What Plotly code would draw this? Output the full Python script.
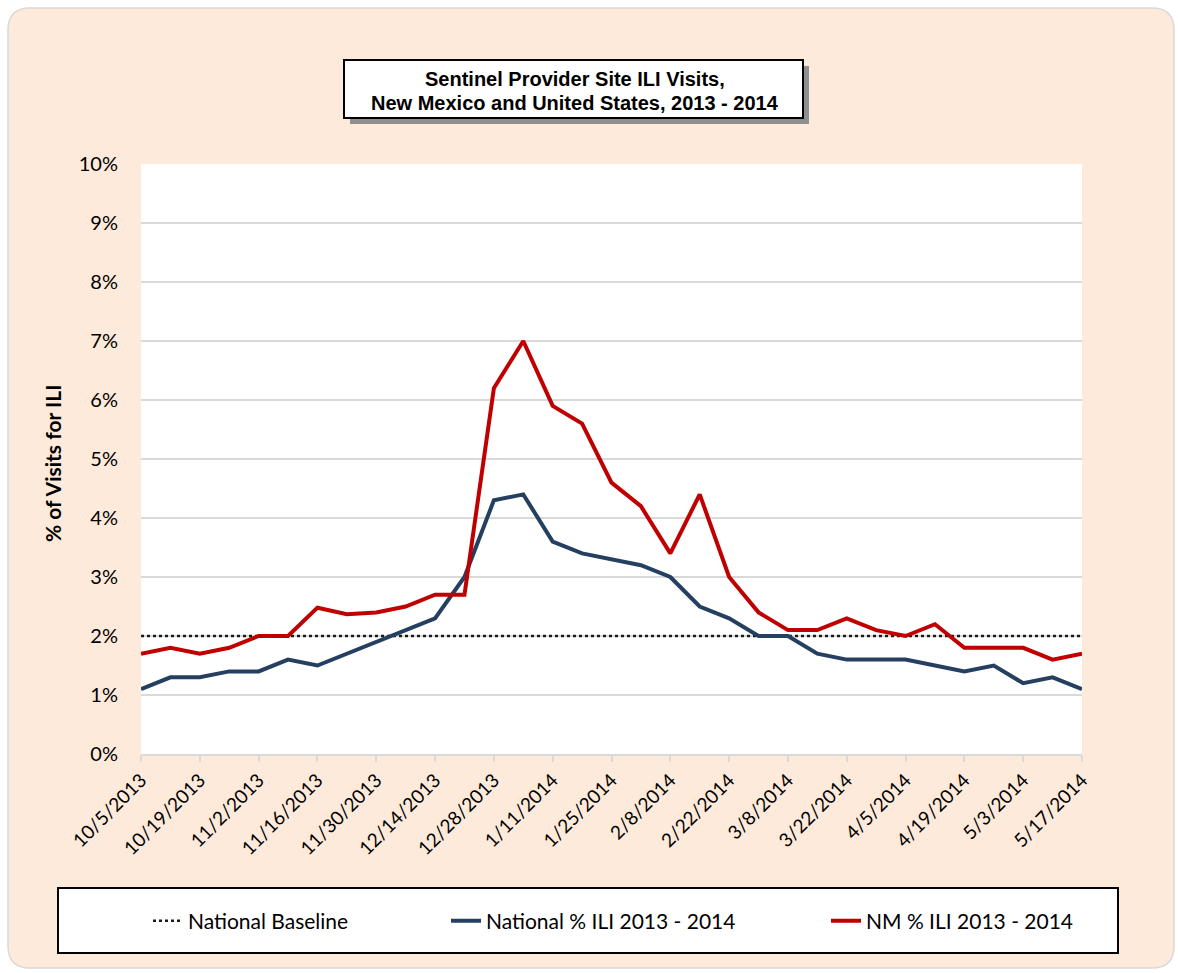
import plotly.graph_objects as go

weeks = ["10/5/2013", "10/12/2013", "10/19/2013", "10/26/2013", "11/2/2013", "11/9/2013",
         "11/16/2013", "11/23/2013", "11/30/2013", "12/7/2013", "12/14/2013", "12/21/2013",
         "12/28/2013", "1/4/2014", "1/11/2014", "1/18/2014", "1/25/2014", "2/1/2014",
         "2/8/2014", "2/15/2014", "2/22/2014", "3/1/2014", "3/8/2014", "3/15/2014",
         "3/22/2014", "3/29/2014", "4/5/2014", "4/12/2014", "4/19/2014", "4/26/2014",
         "5/3/2014", "5/10/2014", "5/17/2014"]

national_ili = [1.1, 1.3, 1.3, 1.4, 1.4, 1.6, 1.5, 1.7, 1.9, 2.1, 2.3, 3.0,
                4.3, 4.4, 3.6, 3.4, 3.3, 3.2, 3.0, 2.5, 2.3, 2.0, 2.0, 1.7,
                1.6, 1.6, 1.6, 1.5, 1.4, 1.5, 1.2, 1.3, 1.1]

nm_ili = [1.7, 1.8, 1.7, 1.8, 2.0, 2.0, 2.48, 2.37, 2.4, 2.5, 2.7, 2.7,
          6.2, 7.0, 5.9, 5.6, 4.6, 4.2, 3.4, 4.4, 3.0, 2.4, 2.1, 2.1,
          2.3, 2.1, 2.0, 2.2, 1.8, 1.8, 1.8, 1.6, 1.7]

national_baseline = [2.0] * len(weeks)

tick_labels = weeks[::2]
y_ticks = list(range(0, 11))
y_tick_text = [f"{v}%" for v in y_ticks]

title_lines = ["Sentinel Provider Site ILI Visits,",
               "New Mexico and United States, 2013 - 2014"]

# ---- layout geometry (pixels) ----
W, H = 1178, 973
L, R, T, B = 141, 1082, 164, 754


def px(x):
    return (x - L) / (R - L)


def py(y):
    return (B - y) / (B - T)


fig = go.Figure()

fig.add_trace(go.Scatter(x=weeks, y=national_baseline, mode="lines",
                         name="National Baseline", legend="legend",
                         line=dict(color="#1a1a1a", width=2.5, dash="dot")))
fig.add_trace(go.Scatter(x=weeks, y=national_ili, mode="lines",
                         name="National % ILI 2013 - 2014", legend="legend2",
                         line=dict(color="#243F60", width=4)))
fig.add_trace(go.Scatter(x=weeks, y=nm_ili, mode="lines",
                         name="NM % ILI 2013 - 2014", legend="legend3",
                         line=dict(color="#C00000", width=4)))

# rounded background
x0, y0, x1, y1, r = 8, 8, 1174, 968, 22
path = (f"M {px(x0 + r)},{py(y0)} L {px(x1 - r)},{py(y0)} "
        f"Q {px(x1)},{py(y0)} {px(x1)},{py(y0 + r)} "
        f"L {px(x1)},{py(y1 - r)} Q {px(x1)},{py(y1)} {px(x1 - r)},{py(y1)} "
        f"L {px(x0 + r)},{py(y1)} Q {px(x0)},{py(y1)} {px(x0)},{py(y1 - r)} "
        f"L {px(x0)},{py(y0 + r)} Q {px(x0)},{py(y0)} {px(x0 + r)},{py(y0)} Z")

shapes = [
    dict(type="path", xref="paper", yref="paper", path=path, layer="below",
         fillcolor="#FDEADA", line=dict(color="#D9D9D9", width=1.5)),
    dict(type="rect", xref="paper", yref="paper", x0=0, x1=1, y0=0, y1=1,
         layer="below", fillcolor="white", line=dict(width=0)),
    # title shadow + box
    dict(type="rect", xref="paper", yref="paper", x0=px(350), x1=px(809),
         y0=py(124), y1=py(66), fillcolor="#8f8f8f", line=dict(width=0)),
    dict(type="rect", xref="paper", yref="paper", x0=px(344), x1=px(803),
         y0=py(118), y1=py(60), fillcolor="white", line=dict(color="black", width=2)),
    # legend box
    dict(type="rect", xref="paper", yref="paper", x0=px(58), x1=px(1118),
         y0=py(953), y1=py(888), fillcolor="white", line=dict(color="black", width=2)),
]

annotations = [
    dict(xref="paper", yref="paper", x=px(575), y=py(79), showarrow=False,
         xanchor="center", yanchor="middle", text=f"<b>{title_lines[0]}</b>",
         font=dict(family="Liberation Sans, Arial", size=20, color="black")),
    dict(xref="paper", yref="paper", x=px(575), y=py(103), showarrow=False,
         xanchor="center", yanchor="middle", text=f"<b>{title_lines[1]}</b>",
         font=dict(family="Liberation Sans, Arial", size=20, color="black")),
    dict(xref="paper", yref="paper", x=px(52), y=py(464), showarrow=False, textangle=-90,
         xanchor="center", yanchor="middle", text="<b>% of Visits for ILI</b>",
         font=dict(family="Lato, Open Sans", size=21, color="black")),
]

legend_common = dict(orientation="h", bgcolor="rgba(0,0,0,0)", borderwidth=0,
                     font=dict(family="Lato, Open Sans", size=21, color="black"),
                     xanchor="left", yanchor="middle", y=py(921))

fig.update_layout(
    width=W, height=H,
    margin=dict(l=L, r=W - R, t=T, b=H - B),
    paper_bgcolor="white",
    plot_bgcolor="white",
    showlegend=True,
    shapes=shapes,
    annotations=annotations,
    legend=dict(**legend_common, x=px(148)),
    legend2=dict(**legend_common, x=px(446)),
    legend3=dict(**legend_common, x=px(826)),
    xaxis=dict(range=[0, len(weeks) - 1], tickmode="array", tickvals=tick_labels,
               ticktext=tick_labels, tickangle=-45, ticks="outside", ticklen=6,
               tickcolor="#D9D9D9", tickwidth=1.5, showline=True, linecolor="#D9D9D9",
               linewidth=1.5, showgrid=False,
               tickfont=dict(family="Lato, Open Sans", size=19, color="black")),
    yaxis=dict(range=[0, 10], tickmode="array", tickvals=y_ticks, ticktext=y_tick_text,
               showgrid=True, gridcolor="#D9D9D9", gridwidth=1.5, zeroline=False,
               showline=False, ticklabelstandoff=22,
               tickfont=dict(family="Lato, Open Sans", size=20, color="black")),
)

fig.write_html("out.html", config={"displayModeBar": False},
               post_script="document.body.style.margin='0';")
